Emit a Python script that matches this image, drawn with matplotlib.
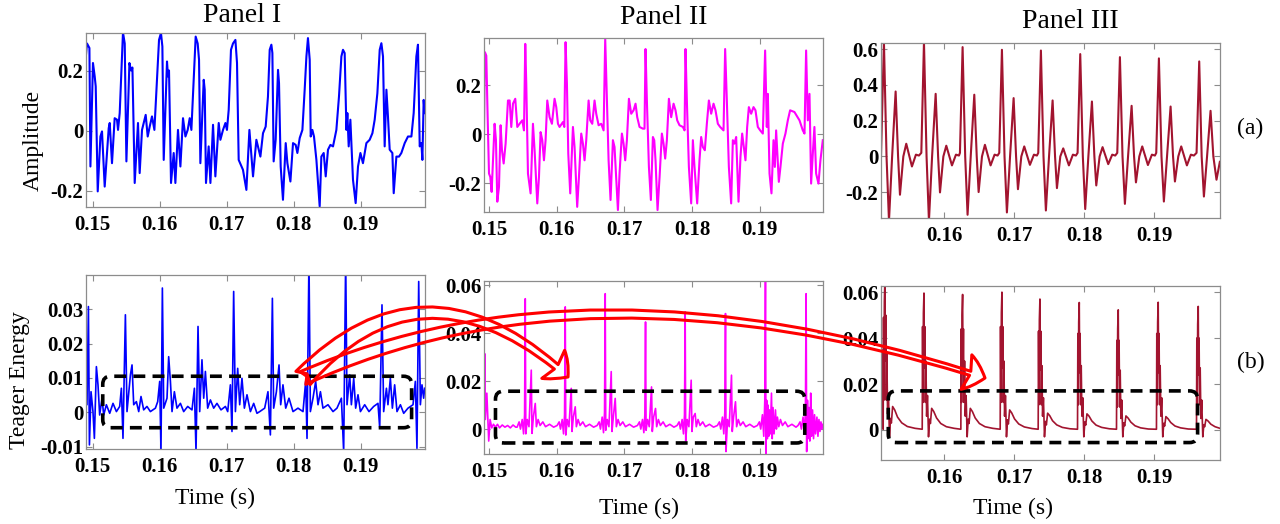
import numpy as np
import matplotlib.pyplot as plt
from matplotlib.patches import FancyArrowPatch, FancyBboxPatch
from matplotlib.transforms import IdentityTransform

plt.rcParams['font.family'] = ['Liberation Serif', 'DejaVu Serif']
plt.rcParams['axes.unicode_minus'] = False

# ---------------- data (time in ms) ----------------
# Panel I, amplitude
p1_amp_t = [148.91, 149.15, 149.51, 149.66, 150.04, 150.30, 150.45, 150.75, 151.15, 151.39,
            151.79, 152.39, 152.54, 152.88, 153.28, 153.63, 153.78, 154.03, 154.28, 154.52,
            154.78, 155.03, 155.48, 155.72, 155.93, 156.12, 156.27, 156.76, 157.01, 157.36,
            157.91, 158.21, 158.51, 158.85, 159.21, 159.60, 159.90, 160.19, 160.40, 160.60,
            161.09, 161.24, 161.39, 161.69, 162.09, 162.34, 162.73, 163.09, 163.48, 163.84,
            164.18, 164.48, 164.73, 165.07, 165.37, 165.67, 165.87, 166.07, 166.57, 166.72,
            166.91, 167.31, 167.57, 167.96, 168.31, 168.81, 169.06, 169.45, 169.81, 170.04,
            170.30, 170.64, 170.94, 171.30, 171.54, 171.79, 172.43, 172.94, 173.39,
            173.93, 174.43, 175.03, 175.42, 175.82, 176.16, 176.42, 176.67, 176.82, 177.01,
            177.31, 177.66, 177.81, 178.06, 178.40, 178.81, 179.06, 179.51, 179.90, 180.30,
            180.55, 180.90, 181.30, 181.64, 181.90, 182.13, 182.39, 182.54, 182.79, 183.03,
            183.39, 183.63, 183.88, 184.13, 184.48, 184.78, 185.12, 185.48, 185.87, 186.37,
            186.76, 187.12, 187.36, 187.61, 187.87, 188.01, 188.21, 188.46, 188.85, 189.25,
            189.60, 189.96, 190.34, 190.85, 191.34, 191.75, 192.09, 192.49, 192.84, 193.09,
            193.33, 193.58, 193.84, 194.07, 194.33, 194.73, 194.93, 195.33, 195.72, 196.07,
            196.57, 197.06, 197.57, 197.91, 198.31, 198.55, 198.81, 199.06, 199.21, 199.40,
            199.55]
p1_amp_v = [0.23, 0.29, 0.275, -0.12, 0.225, 0.18, 0.147, -0.203, -0.02, -0.003,
            -0.187, 0.008, 0.025, -0.109, 0.041, 0.036, 0.002, 0.058, 0.2, 0.327,
            0.29, -0.103, 0.225, 0.2, 0.21, 0.002, -0.175, 0.025, -0.142, 0.002,
            0.052, -0.02, 0.013, 0.047, 0.002, 0.169, 0.302, 0.325, 0.28, -0.098,
            0.23, 0.18, 0.2, -0.175, -0.075, -0.175, 0.002, -0.12, 0.041, -0.02,
            0.002, 0.041, 0.002, 0.169, 0.313, 0.29, 0.236, -0.109, 0.169, 0.136,
            -0.175, -0.053, -0.175, 0.019, -0.153, 0.025, -0.031, 0.002, 0.025, 0.002,
            0.069, 0.269, 0.29, 0.302, 0.225, -0.098, -0.131, -0.198, 0.002,
            -0.153, -0.031, -0.087, -0.009, 0.013, 0.113, 0.269, 0.286, 0.258, -0.103,
            -0.031, 0.202, 0.158, -0.12, -0.231, -0.042, -0.109, -0.17, -0.042, -0.048,
            -0.075, -0.025, 0.002, 0.136, 0.247, 0.308, 0.236, -0.02, 0.002, -0.02,
            -0.098, -0.175, -0.253, -0.087, -0.075, -0.153, -0.064, -0.048, -0.053, 0.002,
            0.113, 0.247, 0.269, 0.258, 0.002, 0.058, -0.053, 0.036, -0.164, -0.242,
            -0.12, -0.075, -0.109, -0.042, -0.031, -0.009, 0.036, 0.124, 0.269, 0.291,
            0.247, -0.053, 0.136, 0.047, -0.064, -0.075, -0.209, -0.087, -0.087, -0.075,
            -0.042, -0.02, -0.02, 0.058, 0.247, 0.286, -0.053, -0.042, -0.098, 0.102,
            0.058]

# Panel II, amplitude
p2_amp_t = [149.20, 149.34, 149.54, 149.74, 149.94, 150.13, 150.33, 150.63, 150.77, 150.97,
            151.17, 151.42, 151.66, 151.86, 152.11, 152.40, 152.75, 153.00, 153.24, 153.49,
            153.83, 154.13, 154.47, 154.87, 155.12, 155.31, 155.46, 155.71, 156.10, 156.45,
            156.69, 157.09, 157.34, 157.58, 157.83, 158.08, 158.32, 158.57, 158.91, 159.26,
            159.65, 159.90, 160.15, 160.39, 160.89, 161.09, 161.28, 161.48, 161.68, 161.97,
            162.37, 162.61, 163.00, 163.26, 163.60, 163.85, 164.09, 164.34, 164.69, 164.93,
            165.23, 165.57, 165.82, 166.17, 166.56, 166.91, 167.15, 167.40, 167.65, 167.94,
            168.29, 168.53, 169.03, 169.27, 169.62, 169.87, 170.11, 170.36, 170.66, 171.00,
            171.35, 171.64, 171.89, 172.23, 172.73, 172.97, 173.12, 173.32, 173.62, 173.91,
            174.21, 174.41, 174.60, 174.90, 175.20, 175.54, 175.79, 176.03, 176.28, 176.58,
            176.92, 177.27, 177.56, 177.81, 178.15, 178.65, 178.90, 179.04, 179.24, 179.54,
            179.88, 180.13, 180.37, 180.77, 181.11, 181.36, 181.61, 181.90, 182.20, 182.50,
            182.84, 183.19, 183.48, 183.83, 184.17, 184.67, 184.91, 185.16, 185.46, 185.80,
            186.05, 186.29, 186.54, 186.89, 187.18, 187.43, 187.68, 187.92, 188.17, 188.42,
            188.76, 189.11, 189.40, 189.75, 190.10, 190.49, 190.83, 191.08, 191.23, 191.48,
            191.77, 192.07, 192.27, 192.46, 192.86, 193.10, 193.45, 193.84, 194.19, 194.53,
            195.17, 195.92, 196.41, 196.66, 196.90, 197.15, 197.40, 197.64, 197.89, 198.13,
            198.38, 198.73, 199.02, 199.37]
p2_amp_v = [0.003, 0.335, 0.321, 0.07, -0.16, -0.174, -0.235, -0.052, 0.043, -0.024,
            -0.275, -0.214, 0.037, -0.065, -0.119, -0.038, 0.138, 0.138, 0.03, 0.125,
            0.145, 0.03, 0.043, 0.057, 0.016, 0.369, 0.206, -0.16, -0.241, 0.043,
            -0.065, -0.282, -0.174, 0.009, -0.024, -0.106, -0.024, 0.138, 0.07, 0.043,
            0.145, 0.111, 0.043, 0.03, 0.05, 0.03, 0.376, 0.206, -0.079, -0.241,
            0.03, -0.052, -0.296, -0.174, 0.003, -0.038, -0.106, -0.024, 0.138, 0.057,
            0.043, 0.138, 0.084, 0.037, 0.043, 0.016, 0.389, 0.138, -0.106, -0.268,
            -0.024, -0.052, -0.309, -0.16, 0.003, -0.038, -0.106, -0.024, 0.145, 0.084,
            0.098, 0.125, 0.07, 0.03, 0.023, 0.023, 0.348, 0.138, -0.133, -0.268,
            -0.011, -0.024, -0.106, -0.309, -0.174, 0.003, -0.038, -0.099, -0.024, 0.145,
            0.07, 0.125, 0.098, 0.057, 0.037, 0.03, 0.016, 0.348, 0.138, -0.133,
            -0.282, -0.024, -0.133, -0.282, -0.106, -0.011, -0.052, -0.065, 0.043, 0.138,
            0.084, 0.125, 0.098, 0.043, 0.03, 0.016, 0.348, 0.138, -0.133, -0.282,
            -0.024, -0.038, -0.011, -0.275, -0.092, 0.003, -0.052, -0.106, 0.03, 0.111,
            0.084, 0.111, 0.098, 0.03, 0.016, 0.003, 0.342, 0.03, 0.165, -0.16,
            -0.241, -0.024, -0.133, 0.016, -0.194, -0.133, -0.038, 0.003, 0.057, 0.098,
            0.091, 0.057, 0.016, 0.003, 0.342, 0.057, 0.165, -0.201, -0.079, 0.03,
            -0.16, -0.201, -0.106, -0.024]

# Panel III, amplitude
p3_amp_t = [150.96, 151.38, 151.75, 152.10, 152.55, 153.05, 153.40, 153.67, 154.15, 154.57, 155.38, 155.95, 156.38,
            156.72, 157.10, 157.47, 157.81, 158.26, 158.77, 159.12, 159.39, 159.87, 160.29, 161.10, 161.67, 162.10,
            162.24, 162.62, 162.99, 163.33, 163.78, 164.29, 164.64, 164.91, 165.39, 165.81, 166.62, 167.19, 167.62,
            167.86, 168.24, 168.61, 168.95, 169.40, 169.91, 170.26, 170.53, 171.01, 171.43, 172.24, 172.81, 173.24,
            173.43, 173.81, 174.18, 174.52, 174.97, 175.48, 175.83, 176.10, 176.58, 177.00, 177.81, 178.38, 178.81,
            179.05, 179.43, 179.80, 180.14, 180.59, 181.10, 181.45, 181.72, 182.20, 182.62, 183.43, 184.00, 184.43,
            184.72, 185.10, 185.47, 185.81, 186.26, 186.77, 187.12, 187.39, 187.87, 188.29, 189.10, 189.67, 190.10,
            190.29, 190.67, 191.04, 191.38, 191.83, 192.34, 192.69, 192.96, 193.44, 193.86, 194.67, 195.24, 195.67,
            196.05, 196.43, 196.78, 197.10, 197.55, 198.05, 198.45, 198.90, 199.38]
p3_amp_v = [0.0, 0.64, 0.0, -0.36, 0.0, 0.363, 0.0, -0.214, 0.0, 0.071, -0.056, 0.01, 0.005,
            0.02, 0.64, 0.0, -0.36, 0.0, 0.35, 0.0, -0.201, 0.0, 0.06, -0.05, 0.01, 0.005,
            0.02, 0.611, 0.0, -0.326, 0.0, 0.345, 0.0, -0.199, 0.0, 0.065, -0.05, 0.01, 0.005,
            0.02, 0.596, 0.0, -0.313, 0.0, 0.326, 0.0, -0.183, 0.0, 0.056, -0.047, 0.01, 0.005,
            0.02, 0.592, 0.0, -0.302, 0.0, 0.313, 0.0, -0.177, 0.0, 0.045, -0.05, 0.01, 0.005,
            0.02, 0.572, 0.0, -0.294, 0.0, 0.307, 0.0, -0.162, 0.0, 0.052, -0.043, 0.01, 0.005,
            0.02, 0.555, 0.0, -0.265, 0.0, 0.283, 0.0, -0.145, 0.0, 0.056, -0.048, 0.01, 0.005,
            0.02, 0.548, 0.0, -0.252, 0.0, 0.279, 0.0, -0.14, 0.0, 0.056, -0.05, 0.01, 0.005,
            0.02, 0.531, 0.0, -0.224, 0.0, 0.255, 0.0, -0.13, -0.03]

# Panel I, Teager energy
p1_teo_t = [148.91, 149.15, 149.36, 149.51, 149.75, 150.04, 150.25, 150.55, 150.79, 151.04,
            151.39, 151.64, 152.04, 152.54, 153.03, 153.54, 154.03, 154.28, 154.52, 154.88,
            155.12, 155.63, 155.87, 156.12, 156.52, 156.87, 157.21, 157.61, 158.10, 158.61,
            159.36, 159.70, 160.00, 160.19, 160.40, 160.60, 161.09, 161.34, 161.60, 161.84,
            162.19, 162.58, 163.09, 163.58, 164.18, 164.82, 165.18, 165.42, 165.72, 165.97,
            166.31, 166.57, 166.82, 167.16, 167.57, 168.06, 168.55, 169.15, 169.81, 170.15,
            170.55, 170.79, 171.04, 171.30, 171.64, 171.94, 172.28, 172.64, 173.03, 173.54,
            174.03, 174.52,
            174.93, 175.67, 176.16, 176.52, 176.82, 177.01, 177.42, 177.81, 178.06, 178.40,
            178.81, 179.30, 179.90, 180.64, 181.39, 181.79, 181.99, 182.28, 182.49, 182.88,
            183.28, 183.63, 183.99, 184.37, 185.12, 185.87, 186.46, 187.12, 187.46, 187.76,
            187.96, 188.36, 188.61, 188.96, 189.25, 189.60, 189.96, 190.60, 191.24, 191.94,
            192.58, 192.84, 193.18, 193.43, 193.84, 194.07, 194.43, 194.73, 195.07, 195.42,
            195.93, 196.42, 197.06, 197.81, 198.16, 198.40, 198.66, 198.91, 199.15, 199.40,
            199.55]
p1_teo_v = [0.0099, 0.0022, 0.0308, -0.0095, 0.006, 0.0002, -0.0076, 0.0133, 0.008, -0.0008,
            0.0041, -0.0008, 0.0022, -0.0003, 0.0026, 0.0002, 0.0017, 0.007, -0.0076, 0.0284,
            0.0002, 0.0109, 0.0138, 0.0022, 0.0031, 0.0002, 0.0046, 0.0007, 0.0017, 0.0002,
            0.0012, 0.0031, 0.009, -0.0115, 0.0362, 0.0012, 0.0041, 0.0162, 0.009, 0.0002,
            0.006, 0.0012, 0.0026, 0.0002, 0.0017, 0.0007, 0.007, -0.0115, 0.025, 0.0002,
            0.0153, 0.0041, 0.0119, 0.0012, 0.0036, 0.0012, 0.0026, 0.0007, 0.0017, 0.0002,
            0.008, -0.0056, 0.0352, 0.0002, 0.0128, 0.0022, 0.0099, 0.0012, 0.0051, 0.0002,
            0.0026, -0.0003,
            0.0002, 0.0012, 0.006, -0.0066, 0.0332, 0.0012, 0.006, 0.0138, 0.0022, 0.008,
            0.0012, 0.0041, 0.0002, 0.0012, 0.0002, 0.009, -0.0076, 0.045, 0.0002, 0.0041,
            0.009, 0.0022, 0.006, 0.0012, 0.0022, 0.0002, 0.0012, 0.0041, -0.0115, 0.045,
            0.0022, 0.0109, 0.0022, 0.0099, 0.0012, 0.0051, 0.0002, 0.0022, 0.0002, 0.0017,
            0.0026, -0.0045, 0.0313, 0.0002, 0.007, 0.0022, 0.0099, 0.0012, 0.008, 0.0002,
            0.0022, -0.0003, 0.0012, 0.0022, 0.009, -0.0105, 0.0381, 0.0022, 0.008, 0.0041,
            0.007]

# Panel II, Teager energy
p2_teo_t = [149.22, 149.30, 149.40, 149.62, 149.80, 149.90, 150.10, 150.35, 150.60, 150.90,
            151.20, 151.50, 151.90, 152.30, 152.70, 153.10, 153.50, 153.90,
            154.10, 154.40, 154.60, 154.86, 155.06, 155.21, 155.31, 155.39, 155.61, 155.86,
            156.20, 156.31, 156.51, 156.79, 156.96, 157.21, 157.51, 157.91, 158.31, 158.91, 159.51,
            160.03, 160.33, 160.53, 160.78, 160.98, 161.13, 161.23, 161.31, 161.53, 161.78,
            162.12, 162.23, 162.43, 162.71, 162.88, 163.13, 163.43, 163.83, 164.23, 164.83, 165.43,
            165.95, 166.25, 166.45, 166.70, 166.90, 167.05, 167.15, 167.23, 167.45, 167.70,
            168.04, 168.15, 168.35, 168.63, 168.80, 169.05, 169.35, 169.75, 170.15, 170.75, 171.35,
            171.92, 172.22, 172.42, 172.67, 172.87, 173.02, 173.12, 173.20, 173.42, 173.67,
            174.01, 174.12, 174.32, 174.60, 174.77, 175.02, 175.32, 175.72, 176.12, 176.72, 177.32,
            177.79, 178.09, 178.29, 178.54, 178.74, 178.89, 178.99, 179.07, 179.29, 179.54,
            179.88, 179.99, 180.19, 180.47, 180.64, 180.89, 181.19, 181.59, 181.99, 182.59, 183.19,
            183.76, 184.06, 184.26, 184.51, 184.71, 184.86, 184.96, 185.04, 185.26, 185.51,
            185.85, 185.96, 186.16, 186.44, 186.61, 186.86, 187.16, 187.56, 187.96, 188.56, 189.16,
            189.68, 189.98, 190.18, 190.43, 190.63, 190.78, 190.88, 190.96, 191.06, 191.16,
            191.26, 191.36, 191.46, 191.60, 191.77, 191.88, 192.00, 192.15, 192.36, 192.50,
            192.65, 192.85, 193.10, 193.40, 193.80, 194.20, 194.80, 195.40,
            195.70, 196.00, 196.20, 196.45, 196.65, 196.80, 196.90, 196.98, 197.10, 197.20,
            197.32, 197.45, 197.58, 197.70, 197.85, 198.00, 198.15, 198.30, 198.50, 198.65,
            198.80, 198.95, 199.10, 199.25, 199.40]
p2_teo_v = [0.012, 0.0315, 0.004, 0.015, 0.002, -0.005, 0.004, 0.0005, 0.002, 0.0008,
            0.002, 0.0005, 0.0017, 0.0008, 0.0015, 0.0005, 0.0017, 0.0008,
            0.0008, 0.003, 0.0, 0.004, -0.002, 0.006, 0.0544, -0.002, 0.004, 0.001,
            0.0246, -0.0018, 0.005, 0.0107, 0.001, 0.004, 0.0015, 0.003, 0.001, 0.002, 0.0008,
            0.0015, 0.003, 0.0, 0.004, -0.002, 0.006, 0.051, -0.0025, 0.004, 0.001,
            0.017, -0.001, 0.005, 0.0093, 0.001, 0.004, 0.0015, 0.003, 0.001, 0.002, 0.0008,
            0.0015, 0.003, 0.0, 0.005, -0.0015, 0.007, 0.0565, -0.0005, 0.004, 0.001,
            0.024, -0.001, 0.005, 0.0128, 0.001, 0.004, 0.0015, 0.003, 0.001, 0.002, 0.0008,
            0.0015, 0.003, 0.0, 0.004, -0.0015, 0.006, 0.0447, -0.0005, 0.004, 0.001,
            0.0176, -0.001, 0.005, 0.0086, 0.001, 0.004, 0.0015, 0.003, 0.001, 0.002, 0.0008,
            0.0015, 0.003, 0.0, 0.004, -0.002, 0.006, 0.0489, -0.005, 0.004, 0.001,
            0.0204, -0.001, 0.005, 0.0065, 0.001, 0.004, 0.0015, 0.003, 0.001, 0.002, 0.0008,
            0.0015, 0.003, 0.0, 0.005, -0.002, 0.007, 0.0482, -0.0094, 0.004, 0.001,
            0.0225, -0.001, 0.005, 0.0114, 0.001, 0.004, 0.0015, 0.003, 0.001, 0.002, 0.0008,
            0.0015, 0.003, 0.0, 0.006, -0.003, 0.012, 0.065, -0.011, 0.012, -0.004,
            0.01, -0.003, 0.008, -0.002, 0.015, -0.004, 0.009, -0.002, 0.008, 0.0,
            0.005, 0.001, 0.004, 0.0015, 0.003, 0.001, 0.002, 0.0008,
            0.0015, 0.003, 0.0, 0.005, -0.002, 0.008, 0.0565, -0.0094, 0.012, -0.004,
            0.009, -0.005, 0.015, -0.003, 0.008, -0.004, 0.006, -0.002, 0.005, -0.003,
            0.004, -0.001, 0.003, 0.0, 0.002]

# Panel III, Teager energy
p3_teo_t = [150.96, 151.02, 151.08, 151.15, 151.22,
            151.27, 151.32, 151.38, 151.44, 151.52, 151.58, 151.64, 151.72, 151.80, 151.90,
            152.02, 152.17, 152.32, 152.44, 152.62, 152.92, 153.32, 153.92, 154.72, 155.82,
            156.85, 156.90, 156.96, 157.02, 157.10, 157.16, 157.22, 157.30, 157.38, 157.48,
            157.60, 157.75, 157.90, 158.02, 158.20, 158.50, 158.90, 159.50, 160.30, 161.40,
            162.37, 162.42, 162.48, 162.54, 162.62, 162.68, 162.74, 162.82, 162.90, 163.00,
            163.12, 163.27, 163.42, 163.54, 163.72, 164.02, 164.42, 165.02, 165.82, 166.92,
            167.99, 168.04, 168.10, 168.16, 168.24, 168.30, 168.36, 168.44, 168.52, 168.62,
            168.74, 168.89, 169.04, 169.16, 169.34, 169.64, 170.04, 170.64, 171.44, 172.54,
            173.42, 173.47, 173.53, 173.59, 173.67, 173.73, 173.79, 173.87, 173.95, 174.05,
            174.17, 174.32, 174.47, 174.59, 174.77, 175.07, 175.47, 176.07, 176.87, 177.97,
            179.04, 179.09, 179.15, 179.21, 179.29, 179.35, 179.41, 179.49, 179.57, 179.67,
            179.79, 179.94, 180.09, 180.21, 180.39, 180.69, 181.09, 181.69, 182.49, 183.59,
            184.61, 184.66, 184.72, 184.78, 184.86, 184.92, 184.98, 185.06, 185.14, 185.24,
            185.36, 185.51, 185.66, 185.78, 185.96, 186.26, 186.66, 187.26, 188.06, 189.16,
            190.32, 190.37, 190.43, 190.49, 190.57, 190.63, 190.69, 190.77, 190.85, 190.95,
            191.07, 191.22, 191.37, 191.49, 191.67, 191.97, 192.37, 192.97, 193.77, 194.87,
            196.04, 196.09, 196.15, 196.21, 196.29, 196.35, 196.41, 196.49, 196.57, 196.67,
            196.79, 196.94, 197.09, 197.21, 197.39, 197.69, 198.09, 198.69, 199.39]
p3_teo_v = [0.0, 0.035, 0.003, 0.02, 0.001,
            0.0003, 0.049, 0.013, 0.056, 0.066, 0.030, 0.050, 0.013, 0.033, 0.007,
            0.016, -0.003, 0.005, 0.003, 0.0102, 0.0087, 0.0056, 0.0031, 0.0015, 0.0007,
            0.0003, 0.045, 0.012, 0.051, 0.0596, 0.027, 0.045, 0.012, 0.030, 0.006,
            0.015, -0.003, 0.0047, 0.0028, 0.0094, 0.008, 0.0052, 0.0028, 0.0014, 0.0007,
            0.0003, 0.044, 0.012, 0.050, 0.059, 0.027, 0.044, 0.012, 0.030, 0.006,
            0.015, -0.003, 0.0047, 0.0028, 0.0094, 0.008, 0.0052, 0.0028, 0.0014, 0.0007,
            0.0003, 0.045, 0.012, 0.051, 0.060, 0.027, 0.045, 0.012, 0.030, 0.006,
            0.015, -0.003, 0.0044, 0.0026, 0.0087, 0.0074, 0.0048, 0.0026, 0.0013, 0.0006,
            0.0003, 0.043, 0.011, 0.048, 0.057, 0.026, 0.043, 0.011, 0.028, 0.006,
            0.014, -0.003, 0.0037, 0.0022, 0.0073, 0.0062, 0.004, 0.0022, 0.0011, 0.0005,
            0.0003, 0.042, 0.011, 0.047, 0.0555, 0.025, 0.042, 0.011, 0.028, 0.006,
            0.014, -0.003, 0.0035, 0.0021, 0.007, 0.006, 0.0039, 0.0021, 0.0011, 0.0005,
            0.0003, 0.039, 0.010, 0.044, 0.0523, 0.024, 0.039, 0.010, 0.026, 0.005,
            0.013, -0.003, 0.0031, 0.0018, 0.0061, 0.0052, 0.0034, 0.0018, 0.0009, 0.0004,
            0.0003, 0.042, 0.011, 0.047, 0.0556, 0.025, 0.042, 0.011, 0.028, 0.006,
            0.014, -0.003, 0.0029, 0.0017, 0.0058, 0.0049, 0.0032, 0.0017, 0.0009, 0.0004,
            0.0003, 0.040, 0.011, 0.046, 0.0538, 0.024, 0.040, 0.011, 0.027, 0.005,
            0.013, -0.003, 0.0023, 0.0014, 0.0046, 0.0039, 0.0025, 0.0014, 0.0007]

# dashed boxes (x in s, y in energy units)
box_x = [(0.1515, 0.1976), (0.1509, 0.1967), (0.1520, 0.1962)]
box_y = [(-0.0045, 0.0105), (-0.0058, 0.0158), (-0.0055, 0.0170)]

x_ticks_12 = [0.15, 0.16, 0.17, 0.18, 0.19]
x_ticks_3 = [0.16, 0.17, 0.18, 0.19]

# ---------------- figure ----------------
W, H = 1280, 524
fig = plt.figure(figsize=(W / 100, H / 100), dpi=100)

blue = '#0000ff'
magenta = '#ff00ff'
darkred = '#a2142f'
gray = '#8c8c8c'


def style(ax, xlim, ylim, xticks, yticks, ylabels):
    ax.set_xlim(xlim)
    ax.set_ylim(ylim)
    ax.set_xticks(xticks)
    ax.set_xticklabels(['%.2f' % x for x in xticks], fontweight='bold', fontsize=15)
    ax.set_yticks(yticks)
    ax.set_yticklabels(ylabels, fontweight='bold', fontsize=15)
    ax.tick_params(direction='in', length=4, width=0.8, color=gray,
                   top=True, right=True)
    ax.tick_params(axis='x', pad=6)
    ax.tick_params(axis='y', pad=2)
    for s in ax.spines.values():
        s.set_color(gray)
        s.set_linewidth(0.9)


def ax_at(left, top, right, bottom):
    return fig.add_axes([left / W, 1 - bottom / H, (right - left) / W, (bottom - top) / H])


a1 = ax_at(86, 33, 425, 207)
a1.plot(np.array(p1_amp_t) / 1000, p1_amp_v, color=blue, lw=1.5)
style(a1, (0.149, 0.1996), (-0.255, 0.325), x_ticks_12, [-0.2, 0, 0.2], ['-0.2', '0', '0.2'])

a2 = ax_at(484, 38, 823, 212)
a2.plot(np.array(p2_amp_t) / 1000, p2_amp_v, color=magenta, lw=1.5)
style(a2, (0.1492, 0.1994), (-0.317, 0.393), x_ticks_12, [-0.2, 0, 0.2], ['-0.2', '0', '0.2'])

a3 = ax_at(881, 43, 1220, 218)
a3.plot(np.array(p3_amp_t) / 1000, p3_amp_v, color=darkred, lw=1.5)
style(a3, (0.15096, 0.1994), (-0.344, 0.634), x_ticks_3,
      [-0.2, 0, 0.2, 0.4, 0.6], ['-0.2', '0', '0.2', '0.4', '0.6'])

b1 = ax_at(86, 275, 425, 449)
b1.plot(np.array(p1_teo_t) / 1000, p1_teo_v, color=blue, lw=1.2)
style(b1, (0.149, 0.1996), (-0.0107, 0.040), x_ticks_12,
      [-0.01, 0, 0.01, 0.02, 0.03], ['-0.01', '0', '0.01', '0.02', '0.03'])

b2 = ax_at(484, 281, 823, 454)
b2.plot(np.array(p2_teo_t) / 1000, p2_teo_v, color=magenta, lw=1.2)
style(b2, (0.1492, 0.1994), (-0.0104, 0.0618), x_ticks_12,
      [0, 0.02, 0.04, 0.06], ['0', '0.02', '0.04', '0.06'])

b3 = ax_at(881, 286, 1220, 460)
b3.plot(np.array(p3_teo_t) / 1000, p3_teo_v, color=darkred, lw=1.2)
style(b3, (0.15096, 0.1994), (-0.0131, 0.0627), x_ticks_3,
      [0, 0.02, 0.04, 0.06], ['0', '0.02', '0.04', '0.06'])

# dashed rounded boxes, placed through each axes' data transform
for ax, (x0, x1), (y0, y1) in zip([b1, b2, b3], box_x, box_y):
    (px0, py0), (px1, py1) = ax.transData.transform([(x0, y0), (x1, y1)])
    fig.add_artist(FancyBboxPatch((px0, py0), px1 - px0, py1 - py0,
                                  boxstyle='round,pad=0,rounding_size=8',
                                  transform=IdentityTransform(), fill=False,
                                  ec='black', lw=2.6, ls=(0, (3.3, 2.0)), zorder=3))


# red hollow curved arrows (wide tail tapering towards the head)
def fpos(x, y):
    return (x / W, 1 - y / H)


fig.add_artist(FancyArrowPatch(fpos(303, 378), fpos(568, 377), transform=fig.transFigure,
                               connectionstyle='angle3,angleA=47,angleB=-42',
                               arrowstyle='fancy,head_length=14,head_width=26,tail_width=14',
                               mutation_scale=1, fc='none', ec='red', lw=2.2,
                               shrinkA=0, shrinkB=0, zorder=4))
fig.add_artist(FancyArrowPatch(fpos(303, 378), fpos(985, 378), transform=fig.transFigure,
                               connectionstyle='angle3,angleA=24,angleB=-18',
                               arrowstyle='fancy,head_length=14,head_width=26,tail_width=10',
                               mutation_scale=1, fc='none', ec='red', lw=2.2,
                               shrinkA=0, shrinkB=0, zorder=4))

# texts
fig.text(242 / W, 1 - 15 / H, 'Panel I', fontsize=20, ha='center', va='center')
fig.text(664 / W, 1 - 18 / H, 'Panel II', fontsize=20, ha='center', va='center')
fig.text(1070 / W, 1 - 22 / H, 'Panel III', fontsize=20, ha='center', va='center')
fig.text(1250 / W, 1 - 128 / H, '(a)', fontsize=17, ha='center', va='center')
fig.text(1251 / W, 1 - 362 / H, '(b)', fontsize=17, ha='center', va='center')
fig.text(33 / W, 1 - 140 / H, 'Amplitude', fontsize=17, rotation=90, ha='center', va='center')
fig.text(20 / W, 1 - 380 / H, 'Teager Energy', fontsize=17, rotation=90, ha='center', va='center')
fig.text(215 / W, 1 - 498 / H, 'Time (s)', fontsize=17, ha='center', va='center')
fig.text(639 / W, 1 - 508 / H, 'Time (s)', fontsize=17, ha='center', va='center')
fig.text(1013 / W, 1 - 508 / H, 'Time (s)', fontsize=17, ha='center', va='center')

fig.savefig('out.png', dpi=100)
